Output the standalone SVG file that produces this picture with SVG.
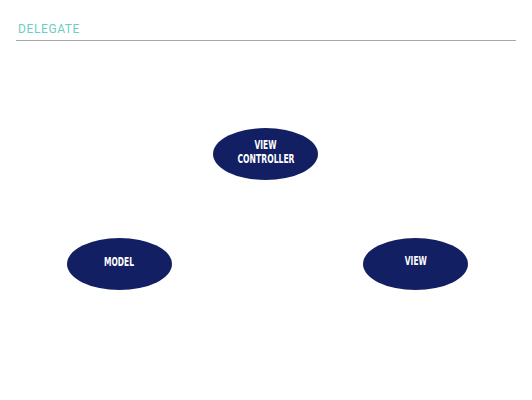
<svg xmlns="http://www.w3.org/2000/svg" width="532" height="400" viewBox="0 0 532 400">
<style>
.node{fill:#131f63}
.lbl{font-family:"DejaVu Sans","Liberation Sans",sans-serif;font-stretch:condensed;font-weight:bold;font-size:11.8px;fill:#ffffff;text-anchor:middle}
.title{font-family:"Roboto","Liberation Sans",sans-serif;font-size:12px;fill:#6dcdc4;letter-spacing:0.6px}
</style>
<rect width="532" height="400" fill="#ffffff"/>
<text class="title" x="18" y="33">DELEGATE</text>
<line x1="16" y1="40.5" x2="516" y2="40.5" stroke="#a8a8a8" stroke-width="1"/>
<g id="connectors"></g>
<g id="view-controller">
<ellipse class="node" cx="265.5" cy="154" rx="52.5" ry="26"/>
<text class="lbl" x="265.5" y="148.8" textLength="22" lengthAdjust="spacingAndGlyphs">VIEW</text>
<text class="lbl" x="266" y="162.8" textLength="57" lengthAdjust="spacingAndGlyphs">CONTROLLER</text>
</g>
<g id="model">
<ellipse class="node" cx="119.5" cy="264" rx="52.5" ry="26"/>
<text class="lbl" x="119" y="265.5" textLength="30" lengthAdjust="spacingAndGlyphs">MODEL</text>
</g>
<g id="view">
<ellipse class="node" cx="415.5" cy="264" rx="52.5" ry="26"/>
<text class="lbl" x="415.8" y="264.5" textLength="22" lengthAdjust="spacingAndGlyphs">VIEW</text>
</g>
</svg>
